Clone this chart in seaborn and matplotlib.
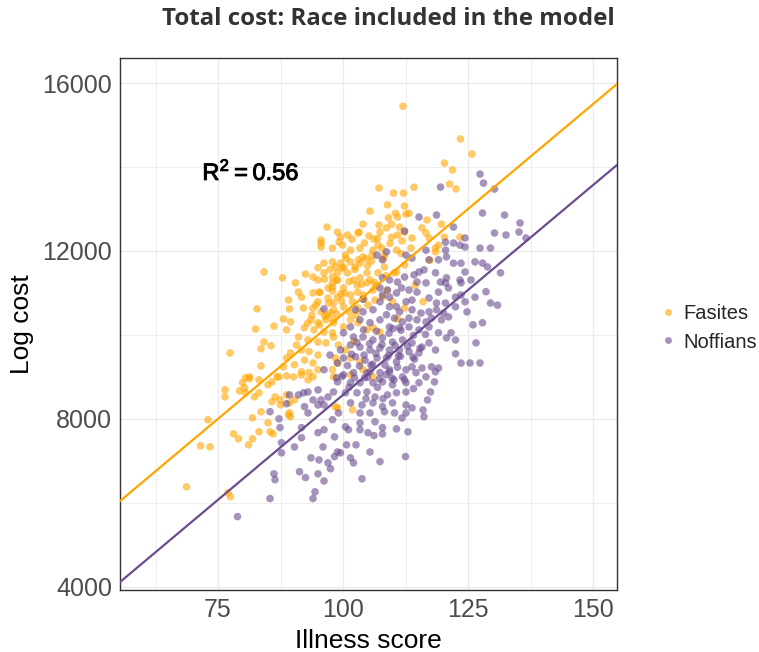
import matplotlib
matplotlib.use("Agg")
import matplotlib.pyplot as plt
import matplotlib.patheffects as pe
from matplotlib.lines import Line2D
import seaborn as sns
import pandas as pd

# ---------------- data ----------------
fas_x = [112.0,123.5,125.8,120.3,121.9,121.3,122.6,107.2,110.1,112.1,114.2,108.9,112.3,105.4,110.5,113.2,112.6,109.1,110.9,116.8,
         104.0,107.2,109.7,111.3,108.7,115.8,119.7,103.2,105.2,99.5,109.7,110.9,113.8,117.2,120.3,123.4,96.8,95.6,95.6,95.6,
         98.9,100.9,103.0,107.4,112.3,116.6,97.9,99.9,101.5,103.4,106.0,107.0,107.8,110.7,113.6,118.5,119.1,
         100.5,104.0,105.8,108.3,97.9,99.5,101.5,103.4,112.3,118.5,98.9,100.9,102.1,104.8,107.0,108.3,110.7,97.9,103.4,105.4,
         97.9,100.1,102.8,104.8,106.0,104.0,101.5,98.9,107.9,106.4,109.9,100.1,98.1,103.0,105.0,101.9,116.0,112.3,
         98.1,100.1,104.8,106.0,107.4,98.1,101.5,103.0,110.9,99.1,98.5,98.9,101.5,103.4,100.5,97.9,104.0,106.0,
         96.2,98.5,95.0,96.2,94.0,92.5,95.0,97.9,98.9,97.0,95.2,94.0,90.5,91.1,91.7,89.1,95.0,97.0,98.1,94.0,95.6,97.5,92.1,89.3,
         88.1,89.5,88.7,92.3,93.6,95.0,96.6,98.1,94.2,96.2,97.9,91.1,93.0,95.0,96.6,90.7,89.5,88.7,88.1,91.7,93.2,95.0,92.3,94.0,
         90.3,91.7,93.2,95.0,90.1,87.2,84.2,83.6,85.6,83.6,77.4,82.8,82.5,86.2,84.2,87.9,80.5,81.3,
         68.7,73.0,71.5,73.4,77.0,77.5,78.1,79.1,81.9,81.1,83.2,85.0,83.6,81.9,85.4,86.0,89.1,89.5,76.4,76.4,79.9,80.3,79.3,81.3,
         80.5,82.3,83.2,83.2,85.0,86.4,85.8,87.4,87.5,88.7,89.3,90.3,88.7,91.7,93.0,94.0,86.8,85.8,89.3,98.9,
         98.1,101.9,98.5,101.5,102.4,104.6,106.6,100.2,102.6,104.2,96.9,99.6,102.2,108.6,111.6,114.4,117.4,106.2,
         99.2,101.8,104.3,106.9,109.4,111.8,100.6,103.1,105.7,108.1,97.4,99.8,102.4,104.9,96.3,98.7,101.2,103.7,106.3,
         95.4,97.9,100.3,102.9,94.6,97.1,99.7,93.8,96.4,98.8,101.3,92.9,95.3,108.8,110.2]
fas_y = [15450,14670,14310,14095,13930,13595,13480,13500,13380,13380,13520,13100,13070,12950,12900,12900,12880,12790,12810,12740,
         12640,12620,12640,12570,12550,12550,12640,12450,12360,12330,12330,12380,12310,12310,12330,12330,12570,12260,12190,12095,
         12450,12380,12430,12450,12450,12430,12070,12140,12020,12070,12020,12140,12070,12020,12070,12070,12140,
         11900,11860,11900,11900,11740,11710,11740,11710,11670,11980,11480,11480,11310,11480,11480,11620,11500,11380,11360,11310,
         11140,11120,11190,11240,11070,10950,10950,10900,10900,10830,10790,10670,10600,10640,10710,10790,10790,10640,
         10360,10190,10120,10170,10070,9950,10360,10290,10380,9760,9450,9330,9450,9360,9640,9170,9170,9000,
         11710,11620,11600,11480,11380,11450,11310,11240,11310,11120,11020,11000,11240,11020,10900,10830,10790,10880,10760,10640,10550,10520,10640,10620,
         10380,10310,10120,10170,10360,10290,10360,10290,10120,10070,10050,9950,9880,9830,9810,9760,9570,9450,9240,9640,9600,9520,9400,9330,
         9290,9120,9100,9170,9000,9000,9830,9670,9740,9260,9570,10620,10140,10210,11500,11360,8980,9000,
         6380,7976,7357,7333,6240,6143,7643,7524,7524,7380,7690,7905,8167,8024,7690,7643,8095,8048,8690,8524,8857,8738,8667,8952,
         8619,8524,8619,8929,8810,8524,8405,8452,8333,8571,8381,8452,9024,9048,8929,9000,9000,8881,8143,8262,
         9000,8214,8286,9048,11560,11820,11180,11610,10470,10850,10470,10980,9850,11410,11940,11180,11780,12280,
         12210,12280,12190,12300,12180,12240,11820,11790,11760,11820,11560,11590,11620,11650,11330,11300,11270,11210,11250,
         11010,11050,10990,11020,10720,10760,10810,10470,10440,10500,10540,10280,10240,11060,11480]

nof_x = [127.4,128.1,130.3,119.5,115.2,118.7,122.1,127.9,132.3,135.4,130.3,132.6,135.2,124.4,112.3,136.6,
         120.5,122.1,123.4,124.4,120.5,127.4,129.5,108.7,106.8,107.9,112.6,113.8,116.6,117.2,119.1,120.7,122.1,123.6,126.4,127.9,
         124.4,128.9,131.5,125.6,123.4,123.6,120.7,120.5,119.5,118.5,116.6,114.8,115.2,116.2,114.2,112.3,110.9,109.3,107.9,
         107.4,108.9,110.7,109.3,107.9,111.7,113.2,114.8,119.1,121.1,122.5,123.6,126.4,124.4,122.5,120.5,118.7,117.2,113.8,112.6,
         110.7,109.3,107.4,106.0,111.3,113.8,115.6,117.2,118.7,120.1,121.1,119.7,117.7,116.6,114.8,113.2,111.9,110.3,108.7,
         104.0,102.5,103.4,105.4,107.4,109.3,111.3,113.2,115.2,117.2,119.1,122.5,120.7,126.0,127.9,126.6,129.5,130.9,
         122.5,123.6,125.4,127.4,101.5,100.1,102.1,104.0,106.0,107.9,109.9,111.9,113.8,115.8,117.2,118.5,115.2,113.2,111.3,
         109.3,107.4,105.4,103.4,101.5,99.5,100.1,102.5,104.4,106.8,108.7,110.7,113.8,115.8,117.7,119.1,112.6,109.3,105.4,
         100.1,102.1,104.8,107.4,109.3,111.9,114.6,116.6,118.5,98.9,101.5,103.4,106.0,107.9,109.9,112.6,115.2,118.3,
         98.1,100.5,102.8,104.8,106.4,108.9,110.7,112.6,117.5,101.5,103.8,106.0,107.9,109.9,112.6,113.8,116.0,
         99.1,103.4,105.4,108.3,110.3,112.6,97.9,103.4,106.4,110.7,113.0,100.5,101.1,103.4,105.0,106.2,107.9,107.9,
         98.3,100.7,102.6,105.4,98.9,99.5,98.3,101.5,102.1,107.4,112.5,97.5,103.8,
         85.4,87.2,87.4,88.7,89.3,91.1,92.1,93.0,95.0,94.0,95.6,97.0,92.3,93.0,95.0,96.2,91.7,91.7,95.0,96.2,
         87.7,87.7,90.3,96.0,93.6,95.2,97.0,91.3,92.5,95.0,96.2,86.2,86.4,85.4,94.4,94.0,78.9,
         96.2,97.4,96.2,98.9,98.7,
         104.3,106.9,110.2,114.1,116.9,105.6,108.6,111.1,114.3,101.2,104.6,108.0,111.8,116.2,121.6,124.8,128.6,104.0,110.0,
         104.1,106.7,109.2,111.6,114.1,116.5,102.8,105.3,107.8,110.4,112.9,115.4,101.7,104.2,106.6,109.1,111.5,114.0,
         100.9,103.3,105.9,108.4,110.9,99.8,102.3,104.9,107.3,109.8,112.3]
nof_y = [13833,13619,13476,13524,12810,12857,12571,12905,12857,12667,12429,12381,12452,12310,12476,12310,
         12210,12190,12140,12095,12020,12070,12070,11980,11900,11790,11900,11830,12020,11790,11790,11860,11710,11710,11740,11710,
         11500,11620,11480,11310,11310,11240,11360,11240,11260,11480,11240,11260,11500,11550,11430,11380,11260,11310,11360,
         11120,11070,11000,10900,10950,11120,11070,11020,11020,11120,10900,10950,10900,10790,10670,10760,10760,10880,10830,10790,
         10670,10670,10790,10600,10550,10600,10520,10550,10600,10520,10430,10360,10400,10310,10360,10400,10310,10400,10480,
         10550,10600,10360,10290,10360,10190,10170,10190,10120,10190,10050,9880,9930,10240,10290,9810,10760,10710,
         9550,9330,9330,9330,10190,10050,9950,9950,9880,9930,9830,9880,9810,9710,9810,9640,9570,9600,9640,
         9640,9690,9640,9710,9760,9640,9450,9480,9400,9450,9450,9360,9240,9210,9240,9210,9170,9170,9120,
         9050,9100,9100,9100,9120,9000,9100,9000,9120,8880,8860,8860,8860,8880,8810,8860,8860,8880,
         8640,8620,8620,8640,8520,8570,8620,8640,8640,8380,8330,8380,8290,8380,8330,8260,8210,
         8140,8140,8140,8170,8140,8140,7980,7900,7930,7760,7690,7810,7740,7740,7670,7600,7790,7640,
         7570,7380,7380,7210,7210,7190,7100,7070,6950,6980,7100,6810,6570,
         8170,8000,7790,8360,8570,8570,8620,8640,8690,8450,8450,8520,8290,8140,8330,8330,7790,7550,7670,7740,
         7430,7190,7330,7330,7070,7020,6950,6740,6600,6690,6520,6690,6550,6100,6260,6100,5670,
         10620,9520,9170,9330,8980,
         8980,8750,8930,8720,8450,9280,9050,9500,9420,8750,8480,8480,8020,8050,10050,10550,11030,10850,10150,
         10120,10090,10040,10110,9990,10010,9820,9790,9770,9750,9730,9680,9540,9520,9560,9510,9490,9470,
         9270,9260,9300,9280,9230,9010,8980,8990,8950,8970,8930]

groups = ["Fasites", "Noffians"]
colors = ["#FFA500", "#6B4C8E"]
# fitted parallel-slopes model (value at illness = 100, common slope)
fit_at100 = [10500, 8570]
fit_slope = [100, 100]

x_ticks = [75, 100, 125, 150]
y_ticks = [4000, 8000, 12000, 16000]

df = pd.DataFrame({
    "illness": fas_x + nof_x,
    "cost": fas_y + nof_y,
    "race": ["Fasites"] * len(fas_x) + ["Noffians"] * len(nof_x),
})

# ---------------- figure ----------------
sns.set_theme(style="white")
plt.rcParams["font.family"] = ["Liberation Sans", "DejaVu Sans"]
plt.rcParams["mathtext.fontset"] = "custom"
plt.rcParams["mathtext.rm"] = "Liberation Sans"
plt.rcParams["mathtext.bf"] = "Liberation Sans:bold"

W, H = 759, 652
fig = plt.figure(figsize=(W / 100, H / 100), dpi=100)
L, R, T, B = 120, 617, 58, 590
ax = fig.add_axes([L / W, 1 - B / H, (R - L) / W, (B - T) / H])

palette = dict(zip(groups, colors))
sns.scatterplot(data=df, x="illness", y="cost", hue="race", palette=palette,
                s=30, alpha=0.6, edgecolor="none", linewidth=0, legend=False,
                ax=ax, zorder=3)

for g, c, b, m in zip(groups, colors, fit_at100, fit_slope):
    ax.axline((100, b), slope=m, color=c, lw=1.6, zorder=4)

ax.set_xlim(55.4, 154.8)
ax.set_ylim(3920, 16600)
ax.set_xticks(x_ticks)
ax.set_yticks(y_ticks)
ax.set_xticks([62.5, 87.5, 112.5, 137.5], minor=True)
ax.set_yticks([6000, 10000, 14000], minor=True)
ax.grid(True, which="major", color="#EBEBEB", lw=1.0, zorder=0)
ax.grid(True, which="minor", color="#EBEBEB", lw=0.6, zorder=0)
ax.set_axisbelow(True)
ax.tick_params(axis="both", which="major", length=3.5, width=0.8, color="#333333",
               labelsize=18, labelcolor="#4D4D4D", direction="out", pad=2)
ax.tick_params(axis="both", which="minor", length=0)
for sp in ax.spines.values():
    sp.set_visible(True)
    sp.set_color("#333333")
    sp.set_linewidth(1.0)

ax.set_xlabel("Illness score", fontsize=19, color="black", labelpad=5)
ax.set_ylabel("Log cost", fontsize=19, color="black", labelpad=6)

ax.text(81.6, 13880, r"$\mathrm{R}^2 = 0.56$", fontsize=17, color="black",
        ha="center", va="center", zorder=6,
        path_effects=[pe.withStroke(linewidth=0.7, foreground="black")])

fig.text(388 / W, 1 - 19 / H, "Total cost: Race included in the model",
         ha="center", va="center", fontsize=17.3, fontweight="bold",
         color="#333333", family=["Open Sans", "DejaVu Sans"])

handles = [Line2D([], [], marker="o", ls="none", color=c, alpha=0.6, ms=5, mec="none")
           for c in colors]
fig.legend(handles, groups, loc="center left", bbox_to_anchor=(648 / W, 1 - 328 / H),
           frameon=False, fontsize=14.5, handletextpad=0.25, labelspacing=0.45,
           handlelength=1.0, borderpad=0)

fig.savefig("out.png", dpi=100)
